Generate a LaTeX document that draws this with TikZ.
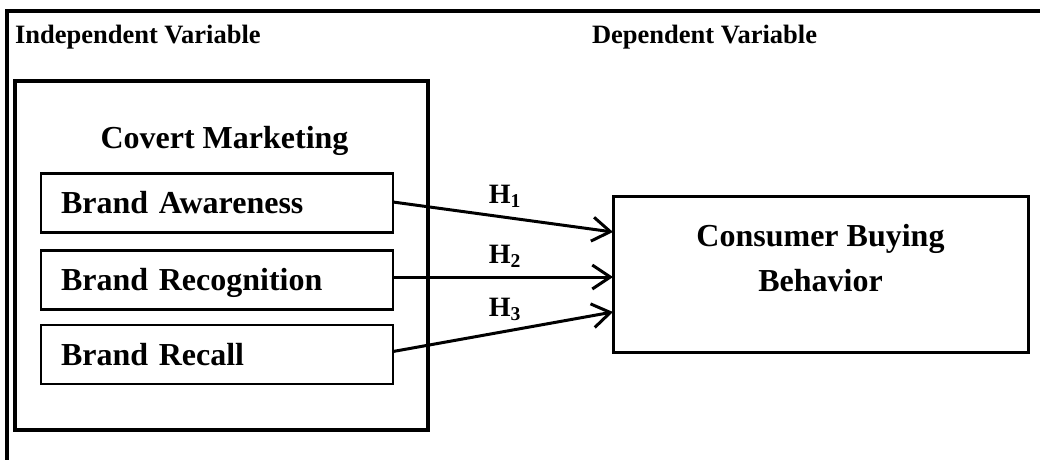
\documentclass[tikz,border=0pt]{standalone}
\usepackage{fontspec}
\setmainfont{Liberation Serif}
\usetikzlibrary{arrows.meta,calc}
\begin{document}
\begin{tikzpicture}[x=1pt,y=-1pt,
  every node/.style={font=\bfseries, inner sep=0pt, outer sep=0pt},
  headtxt/.style={font=\fontsize{26.5}{30}\selectfont\bfseries, anchor=base west},
  bigtxt/.style={font=\fontsize{32}{45}\selectfont\bfseries},
  brandbox/.style={draw, line width=2.5pt, minimum height=59pt, text width=312pt,
    inner xsep=20pt, inner ysep=0pt, align=left, text height=21.5pt, text depth=0pt,
    font=\fontsize{32}{38}\selectfont\bfseries},
  hlabel/.style={font=\fontsize{28}{32}\selectfont\bfseries, anchor=base},
  arr/.style={line width=3pt, -{Straight Barb[length=18pt,width=24pt]}}
]
\useasboundingbox (0,0) rectangle (1040,459);
% outer frame (top and left only)
\draw[line width=4pt] (1045,11) -- (7,11) -- (7,462);
% headings
\node[headtxt] (iv) at (15,43) {Independent Variable};
\node[headtxt] (dv) at (592,43) {Dependent Variable};
% covert marketing group
\node[draw, line width=3.5pt, minimum width=413pt, minimum height=349pt] (cmbox) at (221.5,255.5) {};
\node[bigtxt, anchor=base] (cmt) at (224.5,148) {Covert Marketing};
\node[brandbox] (ba) at (217,203) {Brand Awareness};
\node[brandbox] (br) at (217,280) {Brand Recognition};
\node[brandbox] (rc) at (217,354.5) {Brand Recall};
% dependent box
\node[draw, line width=3pt, minimum width=415pt, minimum height=156pt] (cb) at (820.5,274) {};
\node[bigtxt, align=center] (cbt) at (820.5,258.5) {Consumer Buying\\Behavior};
% arrows
\draw[arr] ($(ba.east)+(0,-1)$) -- ($(cb.west)+(0,-42)$);
\draw[arr] ($(br.east)+(0,-3)$) -- ($(cb.west)+(0,3)$);
\draw[arr] ($(rc.east)+(0,-3)$) -- ($(cb.west)+(0,38)$);
% hypothesis labels
\node[hlabel] (h1) at (505,203) {H\textsubscript{1}};
\node[hlabel] (h2) at (505,263) {H\textsubscript{2}};
\node[hlabel] (h3) at (505,316) {H\textsubscript{3}};
\end{tikzpicture}
\end{document}
